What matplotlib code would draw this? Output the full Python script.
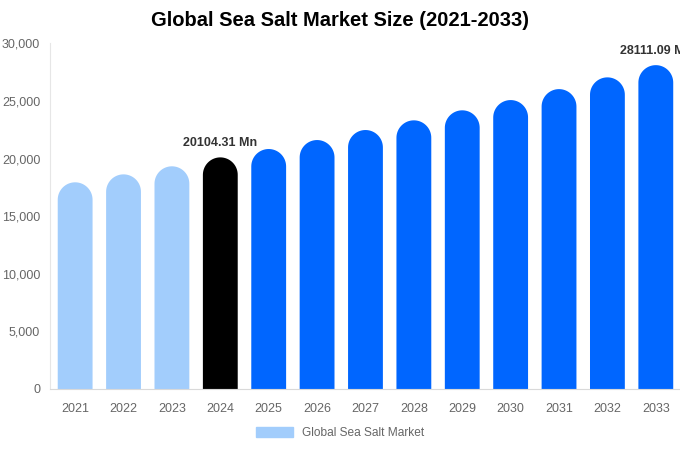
import numpy as np
import matplotlib.pyplot as plt
from matplotlib.patches import Patch, PathPatch
from matplotlib.path import Path

plt.rcParams['font.family'] = ['Liberation Sans', 'DejaVu Sans']

years = ['2021', '2022', '2023', '2024', '2025', '2026', '2027',
         '2028', '2029', '2030', '2031', '2032', '2033']
values = [17940, 18630, 19330, 20104.31, 20830, 21610, 22480,
          23320, 24190, 25080, 26030, 27050, 28111.09]
colors = ['#a2cdfc'] * 3 + ['#000000'] + ['#0066ff'] * 9
labels = {3: '20104.31 Mn', 12: '28111.09 Mn'}

fig = plt.figure(figsize=(6.8, 4.5), dpi=100)
ax = fig.add_axes([0.0735, 0.1356, 0.9265, 0.768])
ax.set_xlim(-0.52, 12.5)
ax.set_ylim(0, 30000)

bw = 0.72
# height of the semicircle cap in data units (bars are rounded on top)
fig.canvas.draw()
px_x = ax.transData.transform((1, 0))[0] - ax.transData.transform((0, 0))[0]
px_y = ax.transData.transform((0, 1000))[1] - ax.transData.transform((0, 0))[1]
cap_h = bw * px_x / px_y * 1000

t = np.linspace(0, np.pi, 40)
for i, v in enumerate(values):
    yc = v - cap_h / 2
    arc = np.column_stack([i + bw / 2 * np.cos(t), yc + cap_h / 2 * np.sin(t)])
    verts = np.vstack([[i - bw / 2, 0], [i + bw / 2, 0], arc, [[i - bw / 2, 0]]])
    ax.add_patch(PathPatch(Path(verts, closed=True), facecolor=colors[i], lw=0))
    if i in labels:
        ax.text(i, v + 700, labels[i], ha='center', va='bottom',
                fontsize=9, fontweight='bold', color='#333333', clip_on=False)

ax.set_xticks(range(len(years)))
ax.set_xticklabels(years)
ax.set_yticks(range(0, 30001, 5000))
ax.set_yticklabels([f'{t:,}' for t in range(0, 30001, 5000)])
ax.tick_params(length=0, labelsize=9, colors='#666666')
ax.tick_params(axis='x', pad=10)
ax.tick_params(axis='y', pad=7)
for s in ['top', 'right']:
    ax.spines[s].set_visible(False)
ax.spines['left'].set_color('#e6e6e6')
ax.spines['bottom'].set_color('#d9d9d9')

fig.suptitle('Global Sea Salt Market Size (2021-2033)', y=0.975,
             fontsize=14.5, fontweight='bold')
fig.legend(handles=[Patch(color='#a2cdfc', label='Global Sea Salt Market')],
           loc='center', bbox_to_anchor=(0.5, 0.038), frameon=False,
           fontsize=8.6, labelcolor='#666666', handlelength=3.1, handleheight=0.9)

fig.savefig('out.png')
